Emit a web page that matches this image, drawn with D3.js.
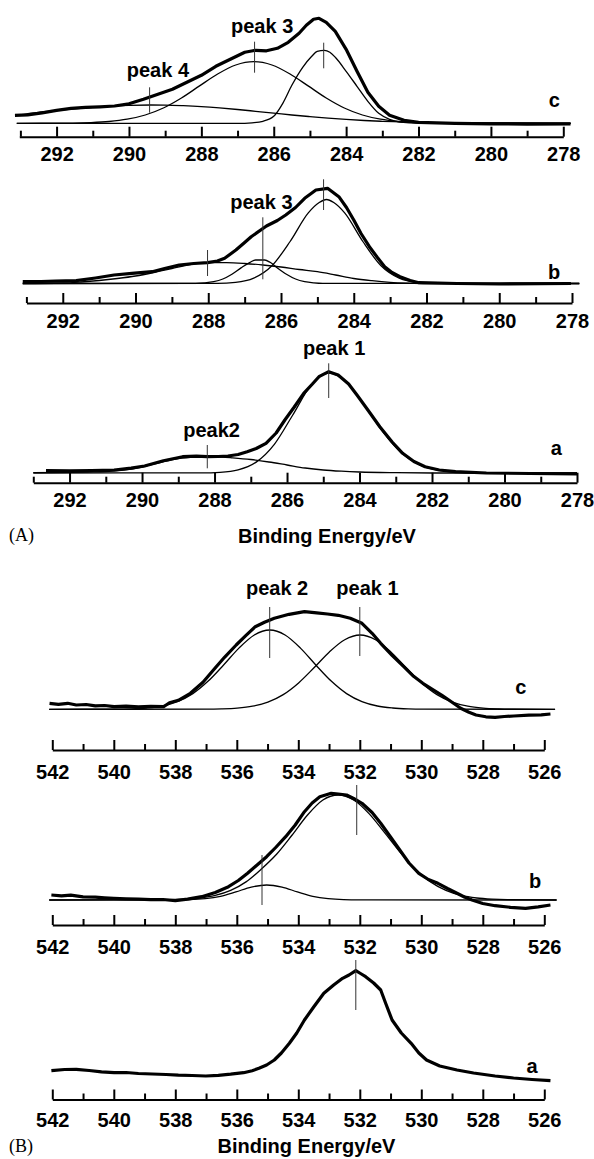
<!DOCTYPE html>
<html>
<head>
<meta charset="utf-8">
<script src="https://cdn.jsdelivr.net/npm/d3@7"></script>
<style>
  body { margin: 0; background: #fff; }
  text { font-family: "Liberation Sans", Arial, sans-serif; font-weight: bold; font-size: 20px; }
</style>
</head>
<body>
<svg id="chart"></svg>
<script>
// XPS spectra, (A) C 1s and (B) O 1s, samples a/b/c
// values are [binding energy eV, intensity a.u.]

var ticksA = [292, 290, 288, 286, 284, 282, 280, 278];
var minorA = [293, 291, 289, 287, 285, 283, 281, 279];
var ticksB = [542, 540, 538, 536, 534, 532, 530, 528, 526];
var minorB = [541, 539, 537, 535, 533, 531, 529, 527];

// ---- (A) C 1s, sample c
var cA_data = [[293.15,8],[292.8,8.5],[292.4,10.5],[292.0,13],[291.6,15],[291.2,16],[290.8,16.5],[290.4,17.3],[290.0,19.5],[289.6,24],[289.2,29],[288.8,34],[288.4,41],[288.0,48],[287.6,57],[287.2,64],[286.8,71],[286.5,73],[286.2,72.5],[285.9,75],[285.6,81],[285.3,90],[285.1,98],[284.9,104],[284.75,105],[284.55,101],[284.3,92],[284.0,74],[283.7,52],[283.4,31],[283.1,17],[282.8,8],[282.4,3],[282.0,1],[281.0,0],[280.0,-0.5],[279.0,-0.8],[277.8,-0.5]];
var cA_peak1 = [[293.1,0],[287.0,0],[286.6,0.5],[286.3,2],[286.0,7],[285.75,20],[285.5,38],[285.2,56],[284.95,67],[284.8,72],[284.6,73],[284.45,71],[284.3,66],[284.0,52],[283.7,37],[283.4,22],[283.1,10],[282.8,4],[282.5,1.2],[282.0,0.2],[277.8,0]];
var cA_peak3 = [[293.1,0],[291.55,0.2],[291.05,0.7],[290.55,1.8],[290.05,4.1],[289.55,8.3],[289.05,15.3],[288.55,25.3],[288.05,37.4],[287.55,49.3],[287.05,58.3],[286.55,61.6],[286.05,58.3],[285.55,49.3],[285.05,37.4],[284.55,25.3],[284.05,15.3],[283.55,8.3],[283.05,4.1],[282.55,1.8],[282.05,0.7],[281.55,0.2],[277.8,0]];
var cA_peak4 = [[293.1,8.2],[292.5,11.0],[292,12.8],[291.5,14.5],[291,16.0],[290.5,17.2],[290,18.0],[289.4,18.3],[289,18.2],[288.5,17.6],[288,16.7],[287.5,15.4],[287,13.8],[286.5,12.0],[286,10.2],[285.5,8.3],[285,6.7],[284.5,5.2],[284,3.9],[283.5,2.8],[283,2.0],[282.5,1.4],[282,0.9],[281.5,0.6],[281,0.4],[280,0.1],[277.8,0]];
var cA_marks = [[289.43,10.6,36],[286.53,50.6,81.6],[284.62,55,80.6]];
var cA_notes = [["peak 3",286.32,97.6],["peak 4",289.2,53.3],["c",278.25,23.3]];

// ---- (A) C 1s, sample b
var bA_data = [[293.1,1.8],[292.6,2],[292.2,2.3],[291.63,2.8],[291.1,5.5],[290.59,8.5],[290.1,10.2],[289.54,11.8],[289.2,15],[288.8,18.5],[288.4,20],[288.02,20.8],[287.75,22.5],[287.55,25.2],[287.24,33.5],[287.0,41],[286.82,46.8],[286.4,57.5],[286.1,63],[285.87,68.5],[285.6,76],[285.35,85.2],[285.04,93.5],[284.72,95.2],[284.41,86.8],[284.2,76],[284.0,63.5],[283.8,50],[283.57,36.8],[283.35,26],[283.15,16.8],[282.95,11],[282.73,6.8],[282.45,3],[282.21,0.8],[281.16,0],[280,-0.5],[278.03,0]];
var bA_peakMain = [[293.1,0],[287.75,0.2],[287.25,1.1],[286.75,5.3],[286.25,17.7],[285.75,42],[285.25,70.6],[284.95,81],[284.75,84],[284.55,81],[284.25,70.6],[283.75,42],[283.25,17.7],[282.75,5.3],[282.25,1.1],[281.75,0.2],[277.8,0]];
var bA_peak3 = [[293.1,0],[288.35,0.1],[288.1,0.6],[287.85,1.8],[287.6,4.5],[287.35,9.3],[287.1,15.6],[286.85,21.2],[286.7,23.5],[286.45,23.5],[286.3,21.2],[286.1,15.6],[285.85,9.3],[285.6,4.5],[285.35,1.8],[285.1,0.6],[284.85,0.1],[277.8,0]];
var bA_peak4 = [[293.1,0],[292,0.5],[291.5,1.5],[291,3],[290.5,5],[290,7.5],[289.5,11],[289,15],[288.5,19],[288,20.8],[287.5,20.8],[287,20],[286.5,18.5],[286,16.5],[285.5,14],[285,11.8],[284.5,8.5],[284,5],[283.5,2.8],[283,1.2],[282.5,0.4],[282,0],[277.8,0]];
var bA_marks = [[288.02,7.5,33.5],[286.5,4.2,66.2],[284.83,73.5,104.2]];
var bA_notes = [["peak 3",286.54,81.8],["b",278.49,11.5]];

// ---- (A) C 1s, sample a
var aA_data = [[292.65,2.3],[292.0,2.2],[291.4,2.5],[290.77,3],[290.3,4.8],[289.93,7],[289.41,12.3],[288.88,16.3],[288.5,16.8],[288.2,16.3],[287.9,16.5],[287.63,17],[287.35,18.5],[287.1,21.3],[286.85,24.5],[286.58,29.7],[286.3,40],[286.06,53],[285.8,66],[285.54,79.7],[285.3,89],[285.12,96.3],[284.85,101.3],[284.59,98],[284.3,89],[284.07,78],[283.75,62],[283.44,46.3],[283.1,31],[282.81,19.7],[282.5,11.5],[282.19,6.3],[281.8,3],[281.35,1.3],[280.5,0],[279.3,-0.5],[278,-1]];
var aA_peak1 = [[293,0],[288.35,0.1],[287.85,0.7],[287.35,3.1],[286.85,10.9],[286.35,28.7],[285.85,57.5],[285.35,87.1],[284.85,100],[284.35,90.5],[283.85,67.1],[283.35,40.8],[282.85,20.3],[282.35,8.3],[281.85,2.8],[281.35,0.8],[280.85,0.2],[278,0]];
var aA_peak2 = [[293,0.3],[292,0.6],[291.5,1],[291,1.5],[290.5,3],[290,6],[289.5,10.5],[289,14.5],[288.5,16],[288.2,16.3],[287.8,16],[287.5,15.2],[287,13.5],[286.5,11],[286,8],[285.5,5],[285,3],[284.5,1.8],[284,1],[283,0.3],[282,0],[278,0]];
var aA_marks = [[288.2,4.7,28],[284.85,75,109.7]];
var aA_notes = [["peak 1",284.7,125],["peak2",288.08,43],["a",278.57,25]];

// ---- (B) O 1s, sample c
var cB_data = [[542.09,6],[541.8,5],[541.5,6],[541.22,4.3],[540.9,4.8],[540.6,3.5],[540.3,3.8],[539.99,2.6],[539.6,3.2],[539.2,2.4],[538.8,2.9],[538.38,2.6],[538.19,6.6],[537.9,9],[537.51,16],[537.1,27],[536.76,39.3],[536.4,52],[536.02,64.3],[535.7,74],[535.4,82.6],[535.1,87],[534.78,91],[534.3,95],[533.8,97.6],[533.4,96.5],[533.05,95.3],[532.7,94],[532.31,91],[531.93,86],[531.6,76],[531.32,66],[530.95,54],[530.57,42.6],[530.25,33],[529.95,26],[529.64,20],[529.34,14.3],[529.0,7],[528.72,1],[528.45,-3],[528.22,-5.7],[527.9,-7.5],[527.6,-8],[527.3,-7.2],[526.99,-6.7],[526.5,-5.8],[526.1,-5.5],[525.8,-4.7]];
var cB_peak2 = [[542.1,0],[539.93,0.1],[539.43,0.4],[538.93,1.3],[538.43,3.3],[537.93,7.7],[537.43,15.7],[536.93,28.2],[536.43,44.3],[535.93,61.2],[535.43,74.3],[534.93,79.3],[534.43,74.3],[533.93,61.2],[533.43,44.3],[532.93,28.2],[532.43,15.7],[531.93,7.7],[531.43,3.3],[530.93,1.3],[530.43,0.4],[529.93,0.1],[525.65,0]];
var cB_peak1 = [[542.1,0],[536.99,0.1],[536.49,0.4],[535.99,1.2],[535.49,3.1],[534.99,7.2],[534.49,14.7],[533.99,26.4],[533.49,41.5],[532.99,57.4],[532.49,69.6],[531.99,74.3],[531.49,69.6],[530.99,57.4],[530.49,41.5],[529.99,26.4],[529.49,14.7],[528.99,7.2],[528.49,3.1],[527.99,1.2],[527.49,0.4],[526.99,0.1],[525.65,0]];
var cB_marks = [[534.93,51.3,102.3],[532.0,53.3,102.3]];
var cB_notes = [["peak 2",534.69,121.3],["peak 1",531.75,121.3],["c",526.76,22.3]];

// ---- (B) O 1s, sample b
var bB_data = [[542.03,5],[541.7,4.2],[541.4,4.8],[541.0,3.2],[540.6,2.8],[540.3,2.2],[540,1.7],[539.6,1.2],[539.2,0.8],[538.8,0.3],[538.4,0.5],[538.0,-0.7],[537.6,0.8],[537.14,3.3],[536.7,7.5],[536.27,13.3],[535.95,19.5],[535.65,26.7],[535.34,35],[535.03,43.3],[534.72,53],[534.41,63.3],[534.1,75],[533.8,88.3],[533.55,97],[533.3,103.3],[532.93,106.7],[532.7,106],[532.43,105],[532.2,101.5],[531.93,96.7],[531.6,87.5],[531.32,76.7],[531.0,63],[530.7,50],[530.4,37],[530.08,26.7],[529.77,20.5],[529.46,16.7],[529.15,11.5],[528.84,6.7],[528.6,3],[528.35,0],[528.0,-3.5],[527.6,-5.7],[527.1,-7.3],[526.61,-8.3],[526.2,-6.8],[525.8,-5]];
var bB_peakMain = [[542.1,0],[538.2,0.3],[537.7,0.8],[537.2,2.0],[536.7,4.6],[536.2,9.6],[535.7,18.1],[535.2,31],[534.7,46],[534.2,65],[533.7,85],[533.2,100],[532.7,105],[532.2,100],[531.7,86.4],[531.2,67.6],[530.7,48.1],[530.2,31],[529.7,18.1],[529.2,9.6],[528.7,4.6],[528.2,2.0],[527.7,0.8],[527.2,0.3],[525.6,0]];
var bB_peak2 = [[542.1,0],[538.03,0.06],[537.53,0.3],[537.03,1.3],[536.53,3.7],[536.03,8.1],[535.53,12.9],[535.03,15],[534.53,12.9],[534.03,8.1],[533.53,3.7],[533.03,1.3],[532.53,0.3],[532.03,0.06],[525.6,0]];
var bB_marks = [[535.18,-5,45],[532.1,65,115]];
var bB_notes = [["b",526.3,19]];

// ---- (B) O 1s, sample a
var aB_data = [[542.03,9.3],[541.6,10.5],[541.22,10.7],[540.8,9.5],[540.4,8.2],[539.99,7.3],[539.6,7.5],[539.2,6.5],[538.75,6],[538.3,5.5],[537.9,4.8],[537.45,4.5],[537.01,4],[536.6,4.7],[536.2,5.8],[535.78,7.3],[535.5,9.3],[535.28,11.7],[535.03,15],[534.78,20],[534.55,27],[534.29,36.7],[534.05,47],[533.8,60],[533.5,73],[533.17,86.7],[532.85,95],[532.56,101.7],[532.35,105],[532.13,109.3],[531.95,106],[531.81,103.3],[531.55,97],[531.32,90],[531.15,76],[530.95,60],[530.65,47],[530.33,36.7],[530.08,27],[529.83,20],[529.4,14],[528.84,10],[528.3,7],[527.6,4],[527.0,2],[526.4,0.5],[525.8,-0.7]];
var aB_marks = [[532.13,70,120]];
var aB_notes = [["a",526.4,14]];

var width = 594, height = 1159;
var svg = d3.select("#chart").attr("width", width).attr("height", height);

var panels = [
  {dom: [293.03, 278], rng: [19.3, 563.3], base: 123.3, axisY: 136.7, pad: 10.5, ticks: ticksA, minor: minorA,
   data: cA_data, fits: [cA_peak1, cA_peak3, cA_peak4], marks: cA_marks, notes: cA_notes},
  {dom: [293, 278], rng: [26.4, 572], base: 283.5, axisY: 303, pad: 10.5, ticks: ticksA, minor: minorA,
   data: bA_data, fits: [bA_peakMain, bA_peak3, bA_peak4], marks: bA_marks, notes: bA_notes},
  {dom: [293, 278], rng: [33.3, 577], base: 473, axisY: 482.7, pad: 10.5, ticks: ticksA, minor: minorA,
   data: aA_data, fits: [aA_peak1, aA_peak2], marks: aA_marks, notes: aA_notes},
  {dom: [542, 526], rng: [52.3, 544.3], base: 709.3, axisY: 750, pad: 14.5, ticks: ticksB, minor: minorB,
   data: cB_data, fits: [cB_peak2, cB_peak1], marks: cB_marks, notes: cB_notes},
  {dom: [542, 526], rng: [52.3, 544.3], base: 900, axisY: 925, pad: 14.5, ticks: ticksB, minor: minorB,
   data: bB_data, fits: [bB_peakMain, bB_peak2], marks: bB_marks, notes: bB_notes},
  {dom: [542, 526], rng: [52.3, 544.3], base: 1080, axisY: 1099.5, pad: 13.5, ticks: ticksB, minor: minorB,
   data: aB_data, fits: [], marks: aB_marks, notes: aB_notes}
];

panels.forEach(function(p) {
  var x = d3.scaleLinear().domain(p.dom).range(p.rng);
  var y = d3.scaleLinear().domain([0, 100]).range([p.base, p.base - 100]);
  var g = svg.append("g");

  var line = d3.line()
      .x(function(d) { return x(d[0]); })
      .y(function(d) { return y(d[1]); });

  // fitted components
  g.selectAll("path.fit")
    .data(p.fits)
    .enter().append("path")
      .attr("class", "fit")
      .attr("d", line.curve(d3.curveMonotoneX))
      .attr("fill", "none")
      .attr("stroke", "#000")
      .attr("stroke-width", 1.3);

  // measured spectrum
  g.append("path")
    .datum(p.data)
    .attr("d", line.curve(d3.curveLinear))
    .attr("fill", "none")
    .attr("stroke", "#000")
    .attr("stroke-width", 3.2)
    .attr("stroke-linejoin", "round");

  // peak position markers
  g.selectAll("line.mark")
    .data(p.marks)
    .enter().append("line")
      .attr("class", "mark")
      .attr("x1", function(d) { return x(d[0]); })
      .attr("x2", function(d) { return x(d[0]); })
      .attr("y1", function(d) { return y(d[1]); })
      .attr("y2", function(d) { return y(d[2]); })
      .attr("stroke", "#333")
      .attr("stroke-width", 1);

  g.selectAll("text.note")
    .data(p.notes)
    .enter().append("text")
      .attr("class", "note")
      .attr("x", function(d) { return x(d[1]); })
      .attr("y", function(d) { return y(d[2]); })
      .attr("dy", "0.35em")
      .attr("text-anchor", "middle")
      .text(function(d) { return d[0]; });

  // axis, ticks pointing up
  var ax = g.append("g")
      .attr("transform", "translate(0," + p.axisY + ")")
      .call(d3.axisBottom(x)
        .tickValues(p.ticks)
        .tickSizeInner(-10)
        .tickSizeOuter(0)
        .tickPadding(p.pad)
        .tickFormat(d3.format("d")));
  ax.attr("font-size", null).attr("font-family", null);
  ax.select(".domain").attr("stroke-width", 2);
  ax.selectAll(".tick line").attr("stroke-width", 2);

  var mn = g.append("g")
      .attr("transform", "translate(0," + p.axisY + ")")
      .call(d3.axisBottom(x)
        .tickValues(p.minor)
        .tickSize(-6)
        .tickFormat(""));
  mn.select(".domain").remove();
  mn.selectAll(".tick line").attr("stroke-width", 2);
});

// panel captions
svg.append("text")
    .attr("x", 327).attr("y", 536).attr("dy", "0.35em")
    .attr("text-anchor", "middle")
    .text("Binding Energy/eV");
svg.append("text")
    .attr("x", 306.5).attr("y", 1146).attr("dy", "0.35em")
    .attr("text-anchor", "middle")
    .text("Binding Energy/eV");

svg.selectAll("text.plabel")
  .data(["(A)", "(B)"])
  .enter().append("text")
    .attr("class", "plabel")
    .attr("x", 9)
    .attr("y", function(d, i) { return i ? 1146 : 535; })
    .attr("dy", "0.35em")
    .style("font-family", "'Liberation Serif', 'Times New Roman', serif")
    .style("font-weight", "normal")
    .style("font-size", "18px")
    .text(function(d) { return d; });
</script>
</body>
</html>
